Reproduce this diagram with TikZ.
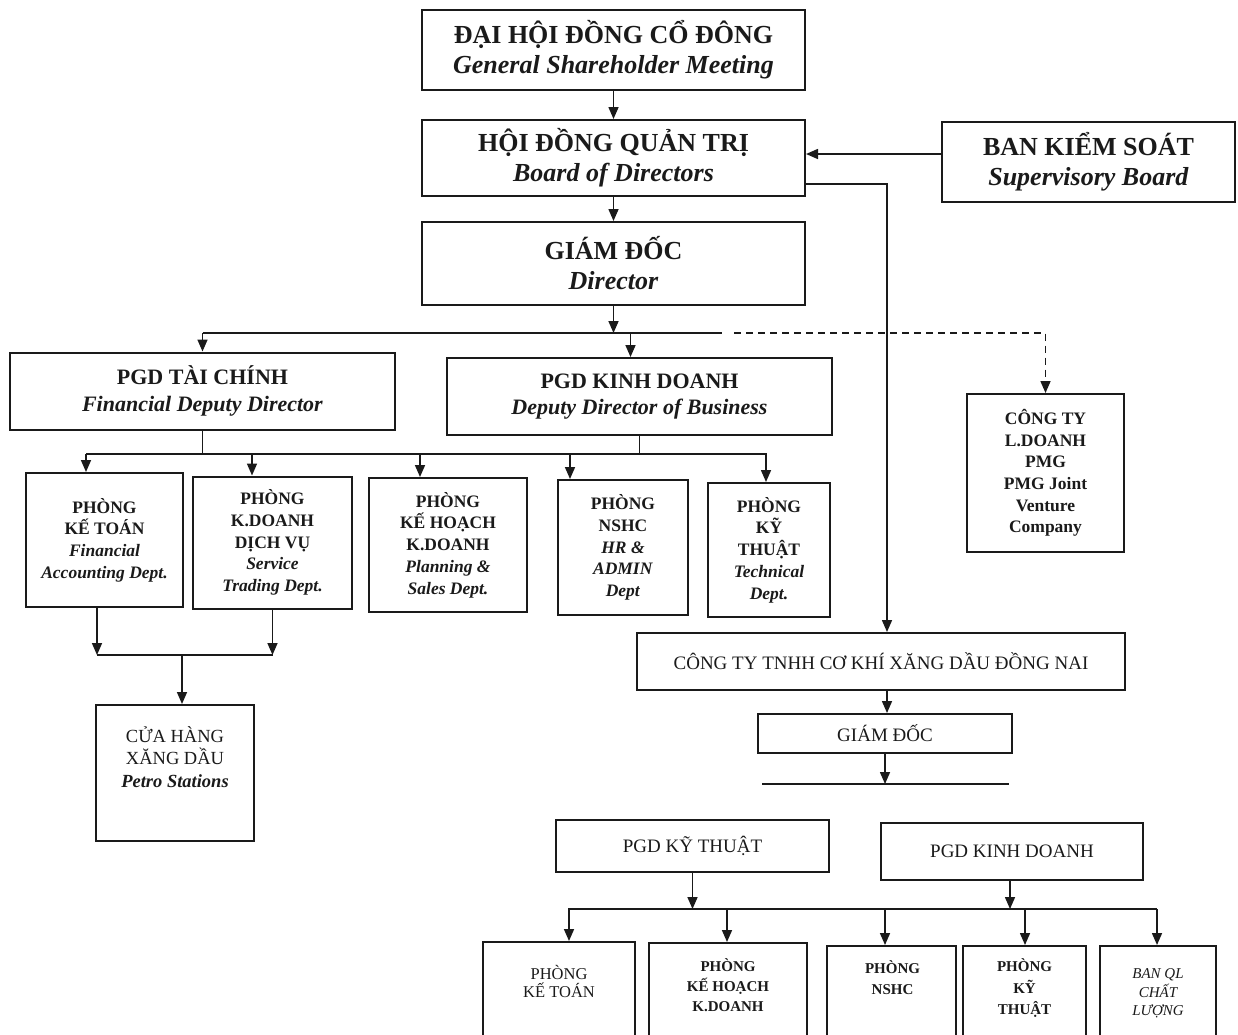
\documentclass[tikz,border=0pt]{standalone}
\usepackage{fontspec}
\setmainfont{Liberation Serif}
\usepackage{xcolor}
\definecolor{ink}{HTML}{1A1A1A}
\usetikzlibrary{arrows.meta,positioning,calc}
\tikzset{
  >={Triangle[length=12pt,width=10pt]},
  box/.style    ={draw=ink,line width=2pt,fill=white,text=ink,
                  align=center,inner sep=2pt},
  head/.style   ={box,font=\fontsize{26}{30}\selectfont\bfseries},
  mid/.style    ={box,font=\fontsize{22}{26.5}\selectfont\bfseries},
  dept/.style   ={box,font=\fontsize{17.5}{21.7}\selectfont\bfseries},
  low/.style    ={box,font=\fontsize{19}{22}\selectfont},
  lbl/.style    ={align=center,inner sep=0pt,text=ink},
  flow/.style   ={->,draw=ink,line width=1.6pt},
  link/.style   ={draw=ink,line width=1.7pt},
  bus/.style    ={draw=ink,line width=2.4pt},
  joint/.style  ={->,draw=ink,line width=1.6pt,dash pattern=on 7pt off 5pt},
}
\begin{document}
\begin{tikzpicture}[x=1pt,y=-1pt]
\useasboundingbox (0,0) rectangle (1238,1034);
\clip (0,0) rectangle (1238,1034);
% board level
\node[head,minimum width=383pt,minimum height=80pt] (gsm) at (613.5,50)
  {ĐẠI HỘI ĐỒNG CỔ ĐÔNG\\\textit{General Shareholder Meeting}};
\node[head,minimum width=383pt,minimum height=76pt] (bod) at (613.5,158)
  {HỘI ĐỒNG QUẢN TRỊ\\\textit{Board of Directors}};
\node[head,minimum width=293pt,minimum height=80pt] (bks) at (1088.5,162)
  {BAN KIỂM SOÁT\\\textit{Supervisory Board}};
\node[head,minimum width=383pt,minimum height=83pt] (dir) at (613.5,263.5)
  {GIÁM ĐỐC\\\textit{Director}};
% deputies
\node[mid,minimum width=385pt,minimum height=77pt] (pgdtc) at (202.5,391)
  {PGD TÀI CHÍNH\\\textit{Financial Deputy Director}};
\node[mid,minimum width=385pt,minimum height=77pt] (pgdkd) at (639.5,396.5)
  {PGD KINH DOANH\\\textit{Deputy Director of Business}};
\node[dept,minimum width=157pt,minimum height=158pt] (ctyld) at (1045.5,473)
  {CÔNG TY\\L.DOANH\\PMG\\PMG Joint\\Venture\\Company};
% departments
\node[dept,minimum width=157pt,minimum height=134pt] (ketoan) at (104.5,540)
  {PHÒNG\\KẾ TOÁN\\\textit{Financial}\\\textit{Accounting Dept.}};
\node[dept,minimum width=159pt,minimum height=132pt] (dichvu) at (272.5,542.5)
  {PHÒNG\\K.DOANH\\DỊCH VỤ\\\textit{Service}\\\textit{Trading Dept.}};
\node[dept,minimum width=158pt,minimum height=134pt] (kehoach) at (448,545)
  {PHÒNG\\KẾ HOẠCH\\K.DOANH\\\textit{Planning \&}\\\textit{Sales Dept.}};
\node[dept,minimum width=130pt,minimum height=135pt] (nshc) at (623,547.5)
  {PHÒNG\\NSHC\\\textit{HR \&}\\\textit{ADMIN}\\\textit{Dept}};
\node[dept,minimum width=122pt,minimum height=134pt] (kythuat) at (769,550)
  {PHÒNG\\KỸ\\THUẬT\\\textit{Technical}\\\textit{Dept.}};
% petro stations
\node[box,minimum width=158pt,minimum height=136pt] (chxd) at (175,773) {};
\node[lbl,font=\fontsize{18.5}{22.5}\selectfont] at ([yshift=16]chxd.center)
  {CỬA HÀNG\\XĂNG DẦU\\\textbf{\textit{Petro Stations}}};
% subsidiary
\node[low,minimum width=488pt,minimum height=57pt] (tnhh) at (881,661.5)
  {CÔNG TY TNHH CƠ KHÍ XĂNG DẦU ĐỒNG NAI};
\node[low,minimum width=254pt,minimum height=39pt] (gd2) at (885,733.5) {GIÁM ĐỐC};
\node[low,minimum width=273pt,minimum height=52pt] (pgdkt2) at (692.5,846) {PGD KỸ THUẬT};
\node[low,minimum width=262pt,minimum height=57pt] (pgdkd2) at (1012,851.5) {PGD KINH DOANH};
\node[box,minimum width=152pt,minimum height=130pt,anchor=north] (bketoan) at (559,941) {};
\node[box,minimum width=158pt,minimum height=130pt,anchor=north] (bkehoach) at (728,942) {};
\node[box,minimum width=129pt,minimum height=130pt,anchor=north] (bnshc) at (891.5,945) {};
\node[box,minimum width=123pt,minimum height=130pt,anchor=north] (bkythuat) at (1024.5,945) {};
\node[box,minimum width=116pt,minimum height=130pt,anchor=north] (bqlcl) at (1158,945) {};
\node[lbl,font=\fontsize{16.5}{18}\selectfont] at ([yshift=-40]bketoan.north) {PHÒNG\\KẾ TOÁN};
\node[lbl,font=\fontsize{15}{20}\selectfont\bfseries] at ([yshift=-43]bkehoach.north) {PHÒNG\\KẾ HOẠCH\\K.DOANH};
\node[lbl,font=\fontsize{15}{21}\selectfont\bfseries] at ([xshift=1,yshift=-32.5]bnshc.north) {PHÒNG\\NSHC};
\node[lbl,font=\fontsize{15}{21.5}\selectfont\bfseries] at ([yshift=-43.5]bkythuat.north) {PHÒNG\\KỸ\\THUẬT};
\node[lbl,font=\fontsize{15}{18.5}\selectfont\itshape] at ([yshift=-48.5]bqlcl.north) {BAN QL\\CHẤT\\LƯỢNG};
% top chain
\draw[flow] (gsm) -- (bod);
\draw[flow] (bod) -- (dir);
\draw[flow] ([yshift=8]bks.west) -- ([yshift=8]bks.west -| bod.east);
\draw[flow] ([yshift=13]bod.south east) -| ([xshift=6]tnhh.north);
% director bus
\coordinate (busL) at (202.5,333);
\coordinate (busR) at (722,333);
\draw[bus] (busL) -- (busR);
\draw[flow] (dir) -- (dir.south |- busL);
\draw[flow] (pgdtc.north |- busL) -- (pgdtc.north);
\draw[flow] ([xshift=-9]pgdkd.north |- busL) -- ([xshift=-9]pgdkd.north);
\draw[joint] ([xshift=12]busR) -| (ctyld.north);
% department bus
\coordinate (dbusL) at (86,454);
\coordinate (dbusR) at (767,454);
\draw[link] (pgdtc) -- (pgdtc.south |- dbusL);
\draw[link] (pgdkd) -- (pgdkd.south |- dbusL);
\draw[link] (dbusL) -- (dbusR);
\foreach \d/\s in {ketoan/-18.5,dichvu/-20.5,kehoach/-28,nshc/-53,kythuat/-3}
  \draw[flow] ([xshift=\s]\d.north |- dbusL) -- ([xshift=\s]\d.north);
% to petro stations
\coordinate (pbusL) at (97,655);
\coordinate (pbusR) at (272.5,655);
\draw[flow] ([xshift=-7.5]ketoan.south) -- ([xshift=-7.5]ketoan.south |- pbusL);
\draw[flow] (dichvu.south) -- (dichvu.south |- pbusL);
\draw[link] (pbusL) -- (pbusR);
\draw[flow] ([xshift=7]chxd.north |- pbusL) -- ([xshift=7]chxd.north);
% subsidiary chain
\draw[flow] ([xshift=2]gd2.north |- tnhh.south) -- ([xshift=2]gd2.north);
\coordinate (barL) at (762,784);
\coordinate (barR) at (1009,784);
\draw[link] (barL) -- (barR);
\draw[flow] (gd2) -- (gd2.south |- barL);
\coordinate (kbusL) at (568,909);
\coordinate (kbusR) at (1157,909);
\draw[flow] (pgdkt2) -- (pgdkt2.south |- kbusL);
\draw[flow] ([xshift=-2]pgdkd2.south) -- ([xshift=-2]pgdkd2.south |- kbusL);
\draw[link] (kbusL) -- (kbusR);
\foreach \b/\s in {bketoan/10,bkehoach/-1,bnshc/-6.5,bkythuat/0.5,bqlcl/-1}
  \draw[flow] ([xshift=\s]\b.north |- kbusL) -- ([xshift=\s]\b.north);
\end{tikzpicture}
\end{document}
